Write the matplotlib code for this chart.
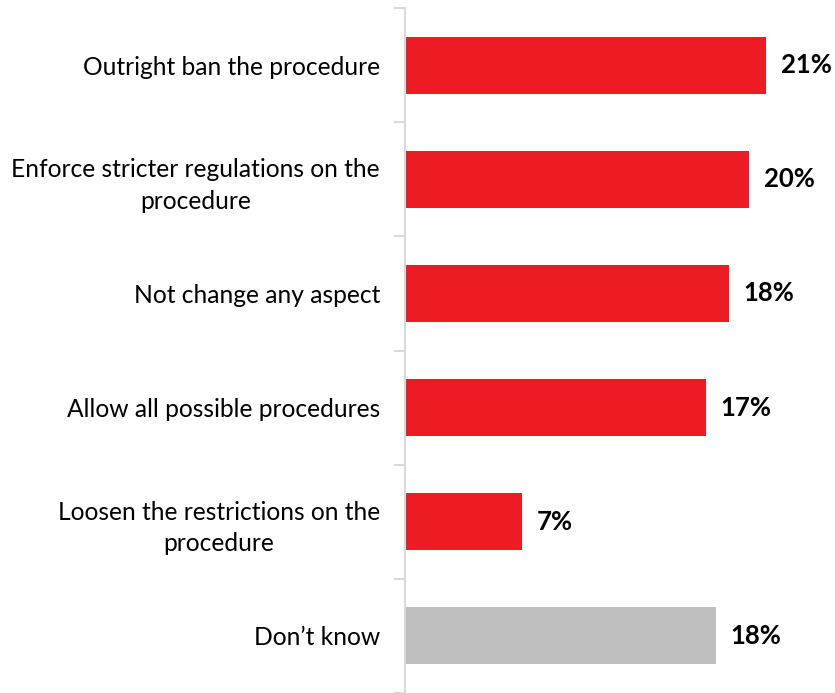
import numpy as np
import matplotlib.pyplot as plt

# answer categories, top to bottom
categories = ['Outright ban the procedure',
              'Enforce stricter regulations on the\nprocedure',
              'Not change any aspect',
              'Allow all possible procedures',
              'Loosen the restrictions on the\nprocedure',
              'Don\u2019t know']
values = [20.99, 20.0, 18.84, 17.5, 6.8, 18.08]
value_labels = ['21%', '20%', '18%', '17%', '7%', '18%']
colors = ['#ED1C24'] * 5 + ['#BFBFBF']

plt.rcParams['font.family'] = ['Lato', 'DejaVu Sans']

fig = plt.figure(figsize=(8.35, 6.93), dpi=100)
ax = fig.add_axes([405 / 835, 0, 430 / 835, 1 - 8 / 693])

pos = np.arange(len(categories))
ax.barh(pos, values, height=0.5, color=colors)

for p, v, lab in zip(pos, values, value_labels):
    ax.text(v + 0.85, p, lab, va='center', ha='left',
            fontsize=18.5, fontweight='bold', color='black')

ax.set_xlim(0, 25)
ax.set_ylim(len(categories) - 0.5, -0.5)

# category labels between the boundary ticks
ax.set_yticks(pos)
ax.set_yticklabels(categories, fontsize=17.7, multialignment='center',
                   linespacing=1.45)
ax.tick_params(axis='y', which='major', length=0, pad=18)
ax.set_yticks(np.arange(len(categories) + 1) - 0.5, minor=True)
ax.tick_params(axis='y', which='minor', length=8, width=1.5, color='#D9D9D9')
ax.set_xticks([])

for s in ['top', 'right', 'bottom']:
    ax.spines[s].set_visible(False)
ax.spines['left'].set_color('#D9D9D9')
ax.spines['left'].set_linewidth(1.5)

fig.savefig('out.png', dpi=100)
